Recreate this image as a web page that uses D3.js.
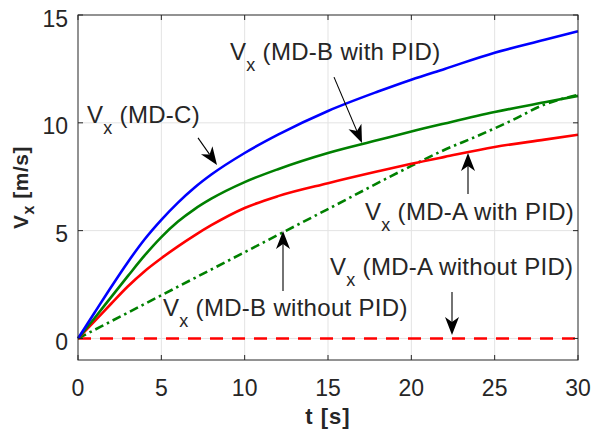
<!DOCTYPE html>
<html>
<head>
<meta charset="utf-8">
<script src="https://cdn.jsdelivr.net/npm/d3@7"></script>
<style>
  body { margin: 0; background: #fff; }
  svg { display: block; font-family: "Liberation Sans", Arial, sans-serif; }
</style>
</head>
<body>
<div id="chart"></div>
<script>
// time axis shared by the PID curves
const tSteps = [0, 1, 2, 3, 4, 5, 6, 7, 8, 10, 12, 15, 18, 20, 22, 25, 28, 30];
const vxMDC = [0, 1.2, 2.4, 3.55, 4.6, 5.5, 6.3, 7.0, 7.6, 8.6, 9.45, 10.55, 11.45, 12.0, 12.5, 13.25, 13.85, 14.25];
const vxMDBpid = [0, 0.95, 1.93, 2.9, 3.85, 4.7, 5.42, 6.0, 6.48, 7.25, 7.85, 8.6, 9.2, 9.6, 9.97, 10.5, 10.95, 11.25];
const vxMDApid = [0, 0.8, 1.62, 2.42, 3.12, 3.72, 4.27, 4.78, 5.25, 6.05, 6.6, 7.2, 7.75, 8.1, 8.42, 8.88, 9.22, 9.45];

// MD-B without PID: near-linear ramp bending toward the end
const tNoPidB = [0, 5, 10, 15, 20, 22, 24, 26, 28, 29, 30];
const vxMDBnoPid = [0, 2.0, 4.0, 6.0, 8.0, 8.75, 9.4, 10.1, 10.85, 11.1, 11.3];

// MD-A without PID stays at rest
const tNoPidA = [0, 30];
const vxMDAnoPid = [0, 0];

const xTicks = [0, 5, 10, 15, 20, 25, 30];
const yTicks = [0, 5, 10, 15];

// labels: text, anchor point [t, v]
const labels = [
  { name: '(MD-C)', at: [0.54, 10.0] },
  { name: '(MD-B with PID)', at: [9.12, 12.9] },
  { name: '(MD-A with PID)', at: [17.22, 5.49] },
  { name: '(MD-A without PID)', at: [15.12, 2.94] },
  { name: '(MD-B without PID)', at: [5.1, 1.04] }
];

// arrows: from [t, v] to [t, v]
const arrows = [
  { from: [7.2, 9.3], to: [8.34, 8.04] },
  { from: [15.36, 12.12], to: [17.04, 9.06] },
  { from: [23.4, 6.7], to: [23.4, 8.6] },
  { from: [12.3, 2.2], to: [12.3, 4.98] },
  { from: [22.44, 2.15], to: [22.44, 0.16] }
];

const width = 606;
const height = 435;
const margin = { top: 15, right: 28, bottom: 75, left: 78 };
const axisColor = '#262626';

const svg = d3.select('#chart')
  .append('svg')
  .attr('width', width)
  .attr('height', height);

const x = d3.scaleLinear()
  .domain([0, 30])
  .range([margin.left, width - margin.right]);

const y = d3.scaleLinear()
  .domain([-1, 15])
  .range([height - margin.bottom, margin.top]);

// grid
svg.append('g')
  .selectAll('line')
  .data(xTicks.slice(1, -1))
  .join('line')
  .attr('x1', d => x(d)).attr('x2', d => x(d))
  .attr('y1', y(-1)).attr('y2', y(15))
  .attr('stroke', '#e3e3e3').attr('stroke-width', 1);

svg.append('g')
  .selectAll('line')
  .data(yTicks.slice(0, -1))
  .join('line')
  .attr('x1', x(0)).attr('x2', x(30))
  .attr('y1', d => y(d)).attr('y2', d => y(d))
  .attr('stroke', '#e3e3e3').attr('stroke-width', 1);

// curves
const line = d3.line()
  .x(d => x(d[0]))
  .y(d => y(d[1]))
  .curve(d3.curveMonotoneX);

const series = [
  { t: tNoPidA, v: vxMDAnoPid, color: '#ff0000', dash: '13,9' },
  { t: tNoPidB, v: vxMDBnoPid, color: '#008000', dash: '9,4,2.5,4' },
  { t: tSteps, v: vxMDApid, color: '#ff0000', dash: null },
  { t: tSteps, v: vxMDBpid, color: '#008000', dash: null },
  { t: tSteps, v: vxMDC, color: '#0000ff', dash: null }
];

svg.append('g')
  .selectAll('path')
  .data(series)
  .join('path')
  .attr('d', s => line(s.t.map((t, i) => [t, s.v[i]])))
  .attr('fill', 'none')
  .attr('stroke', s => s.color)
  .attr('stroke-width', 2.6)
  .attr('stroke-dasharray', s => s.dash);

// box with inward ticks on all sides
const box = svg.append('g')
  .attr('stroke', axisColor)
  .attr('stroke-width', 1);

box.append('rect')
  .attr('x', x(0)).attr('y', y(15))
  .attr('width', x(30) - x(0))
  .attr('height', y(-1) - y(15))
  .attr('fill', 'none');

const tickLen = 5;
xTicks.forEach(d => {
  box.append('line').attr('x1', x(d)).attr('x2', x(d)).attr('y1', y(-1)).attr('y2', y(-1) - tickLen);
  box.append('line').attr('x1', x(d)).attr('x2', x(d)).attr('y1', y(15)).attr('y2', y(15) + tickLen);
});
yTicks.forEach(d => {
  box.append('line').attr('x1', x(0)).attr('x2', x(0) + tickLen).attr('y1', y(d)).attr('y2', y(d));
  box.append('line').attr('x1', x(30)).attr('x2', x(30) - tickLen).attr('y1', y(d)).attr('y2', y(d));
});

// tick labels
svg.append('g')
  .selectAll('text')
  .data(xTicks)
  .join('text')
  .attr('x', d => x(d))
  .attr('y', y(-1) + 36)
  .attr('text-anchor', 'middle')
  .attr('font-size', 23)
  .attr('fill', axisColor)
  .text(d => d);

svg.append('g')
  .selectAll('text')
  .data(yTicks)
  .join('text')
  .attr('x', x(0) - 10)
  .attr('y', d => y(d) + 11.5)
  .attr('text-anchor', 'end')
  .attr('font-size', 23)
  .attr('fill', axisColor)
  .text(d => d);

// axis titles
svg.append('text')
  .attr('x', (x(0) + x(30)) / 2)
  .attr('y', 424)
  .attr('text-anchor', 'middle')
  .attr('font-size', 22)
  .attr('font-weight', 'bold')
  .attr('letter-spacing', 1)
  .attr('fill', axisColor)
  .text('t [s]');

const yTitle = svg.append('text')
  .attr('transform', `translate(28, ${(y(-1) + y(15)) / 2}) rotate(-90)`)
  .attr('text-anchor', 'middle')
  .attr('font-size', 21)
  .attr('font-weight', 'bold')
  .attr('letter-spacing', 0.5)
  .attr('fill', axisColor);
yTitle.append('tspan').text('V');
yTitle.append('tspan').attr('font-size', 16).attr('dy', 6).text('x');
yTitle.append('tspan').attr('dy', -6).text(' [m/s]');

// curve labels
const lab = svg.append('g')
  .selectAll('text')
  .data(labels)
  .join('text')
  .attr('x', d => x(d.at[0]))
  .attr('y', d => y(d.at[1]))
  .attr('font-size', 24)
  .attr('letter-spacing', 0.3)
  .attr('fill', axisColor);
lab.append('tspan').text('V');
lab.append('tspan').attr('font-size', 18).attr('dy', 11).text('x');
lab.append('tspan').attr('dy', -11).text(' ')
  .append('tspan').text(d => d.name);

// arrows with notched heads
const headLen = 18, headHalf = 7, notch = 5;
const arrowG = svg.append('g');
arrows.forEach(a => {
  const x1 = x(a.from[0]), y1 = y(a.from[1]);
  const x2 = x(a.to[0]), y2 = y(a.to[1]);
  const ang = Math.atan2(y2 - y1, x2 - x1);
  const c = Math.cos(ang), s = Math.sin(ang);
  const pt = (along, across) => [x2 - along * c - across * s, y2 - along * s + across * c];
  arrowG.append('line')
    .attr('x1', x1).attr('y1', y1)
    .attr('x2', pt(headLen - notch, 0)[0]).attr('y2', pt(headLen - notch, 0)[1])
    .attr('stroke', '#000').attr('stroke-width', 1.1);
  const head = [pt(0, 0), pt(headLen, headHalf), pt(headLen - notch, 0), pt(headLen, -headHalf)];
  arrowG.append('path')
    .attr('d', 'M' + head.map(p => p.join(',')).join('L') + 'Z')
    .attr('fill', '#000');
});
</script>
</body>
</html>
